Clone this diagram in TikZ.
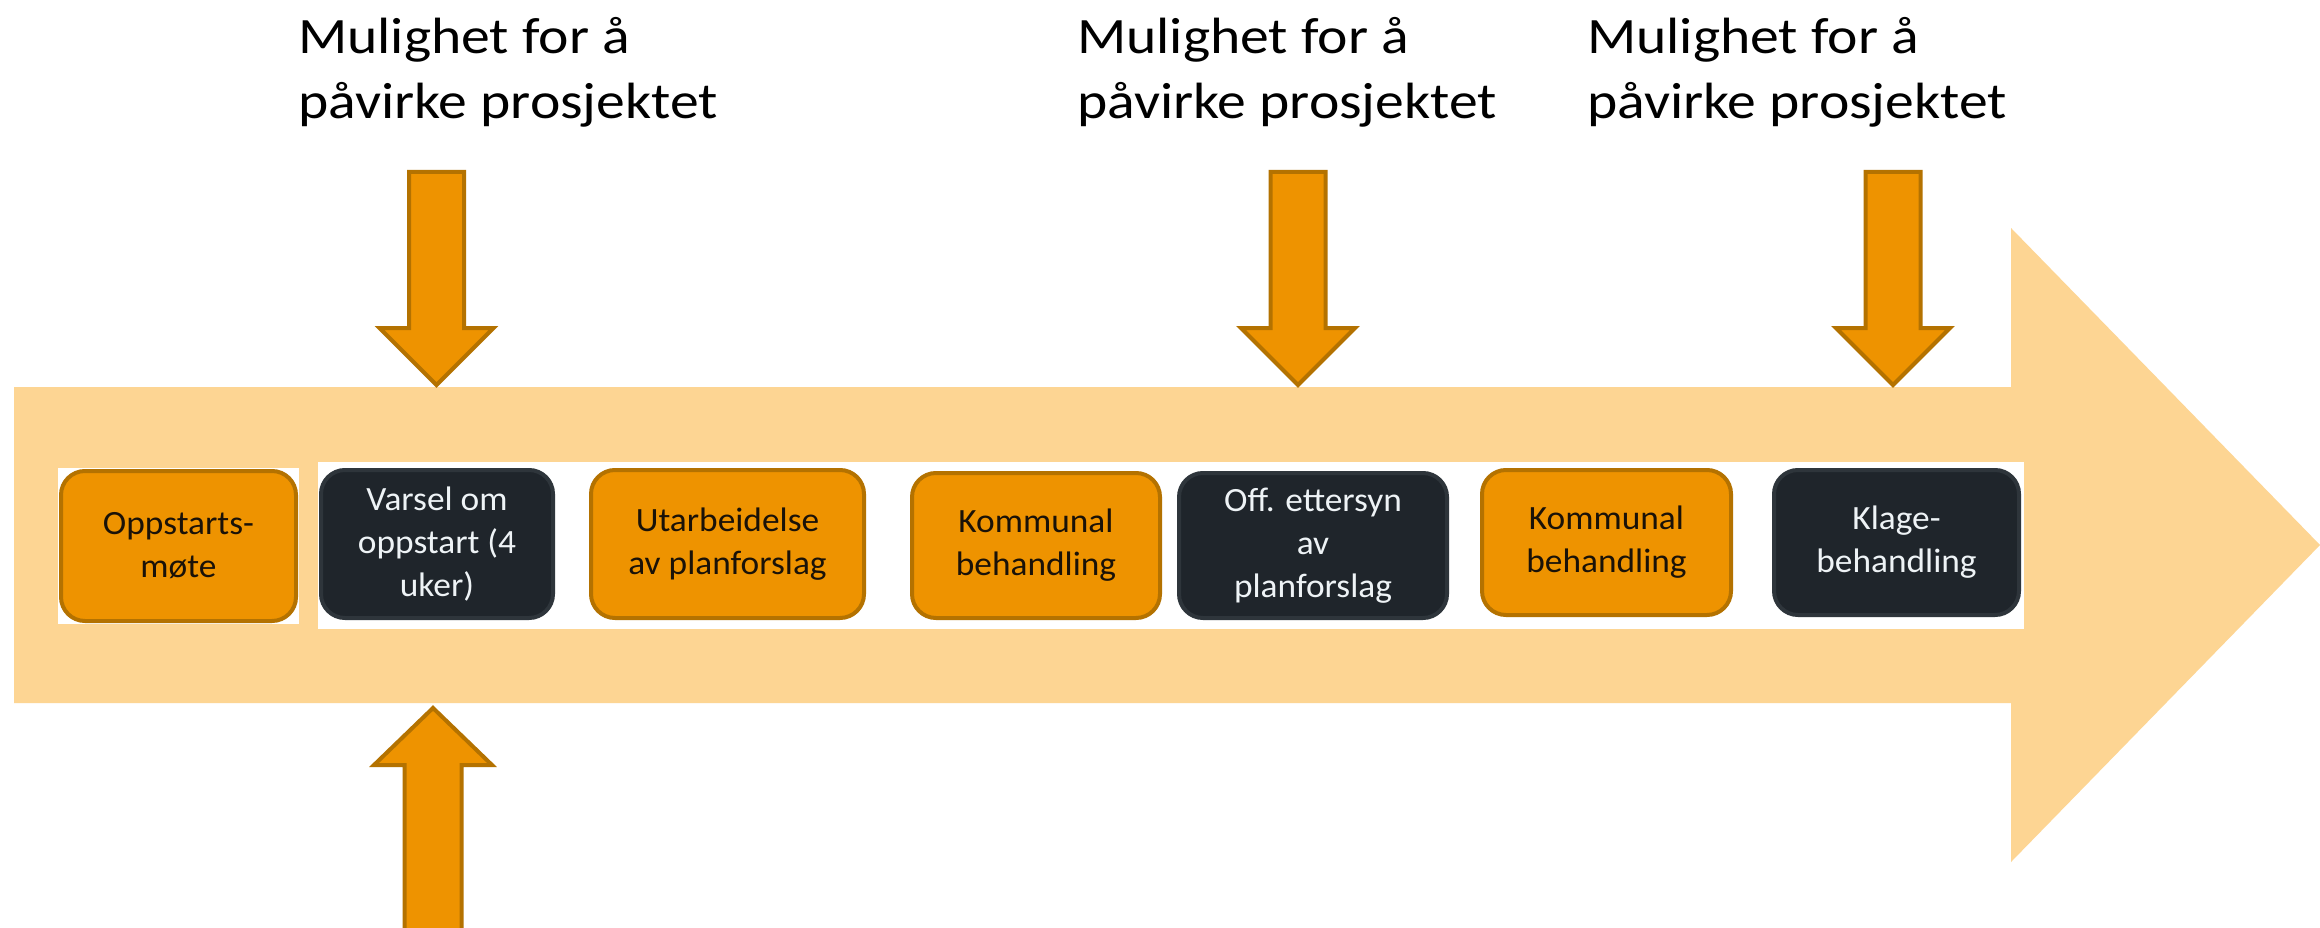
\documentclass[tikz,border=0pt]{standalone}
\usepackage{fontspec}
\setmainfont{Carlito}
\newfontfamily\titlefont[FakeStretch=1.13]{Carlito}
\newfontfamily\boxfont[FakeStretch=1.04]{Carlito}
\definecolor{shaftc}{HTML}{FDD593}
\definecolor{orfill}{HTML}{EE9300}
\definecolor{orline}{HTML}{B47200}
\definecolor{dkfill}{HTML}{1F252B}
\definecolor{dkline}{HTML}{2E353B}
\definecolor{txtlight}{HTML}{EEF3F6}
\definecolor{txtdark}{HTML}{1A1208}
\begin{document}
\begin{tikzpicture}[x=1pt,y=-1pt,
  title/.style={anchor=base west, inner sep=0pt, align=left, font=\titlefont\fontsize{51}{65}\selectfont, text=black},
  stepbase/.style={rounded corners=24pt, line width=4pt, align=center, inner sep=0pt, font=\boxfont\fontsize{34}{43}\selectfont},
  orbox/.style={stepbase, fill=orfill, draw=orline, text=txtdark},
  dkbox/.style={stepbase, fill=dkfill, draw=dkline, text=txtlight},
  pointer/.style={fill=orfill, draw=orline, line width=4pt, line join=miter}
]
\useasboundingbox (0,0) rectangle (2320,928);
\fill[white] (0,0) rectangle (2320,928);
\clip (0,0) rectangle (2320,928);
% big process arrow
\fill[shaftc] (14,387) -- (2011,387) -- (2011,228) -- (2320,545) -- (2011,862) -- (2011,703) -- (14,703) -- cycle;
% white backings
\fill[white] (58,468) rectangle (299,624);
\fill[white] (318,462) rectangle (2024,629);
% steps
\node[orbox, minimum width=235pt, minimum height=150pt] (s1) at (178.5,546) {Oppstarts-\\møte};
\node[dkbox, minimum width=232pt, minimum height=148pt] (s2) at (437,544) {Varsel om\\oppstart (4\\uker)};
\node[orbox, minimum width=273pt, minimum height=148pt] (s3) at (727.5,544) {Utarbeidelse\\av planforslag};
\node[orbox, minimum width=248pt, minimum height=145pt] (s4) at (1036,545.5) {Kommunal\\behandling};
\node[dkbox, minimum width=268pt, minimum height=145pt] (s5) at (1313,545.5) {Off. ettersyn\\av\\planforslag};
\node[orbox, minimum width=249pt, minimum height=145pt] (s6) at (1606.5,542.5) {Kommunal\\behandling};
\node[dkbox, minimum width=245pt, minimum height=145pt] (s7) at (1896.5,542.5) {Klage-\\behandling};
% titles (anchor = baseline of the last line)
\node[title] (t1) at (298,119) {Mulighet for å\\påvirke prosjektet};
\node[title] (t2) at (1077,119) {Mulighet for å\\påvirke prosjektet};
\node[title] (t3) at (1587,119) {Mulighet for å\\påvirke prosjektet};
% down pointers
\foreach \c in {436.5,1298,1893}{
  \draw[pointer] ({\c-27.5},172) -- ({\c+27.5},172) -- ({\c+27.5},328) -- ({\c+57},328) -- (\c,385) -- ({\c-57},328) -- ({\c-27.5},328) -- cycle;
}
% up pointer
\draw[pointer] (433,708) -- (492,765) -- (461.5,765) -- (461.5,940) -- (404.5,940) -- (404.5,765) -- (374,765) -- cycle;
\end{tikzpicture}
\end{document}
